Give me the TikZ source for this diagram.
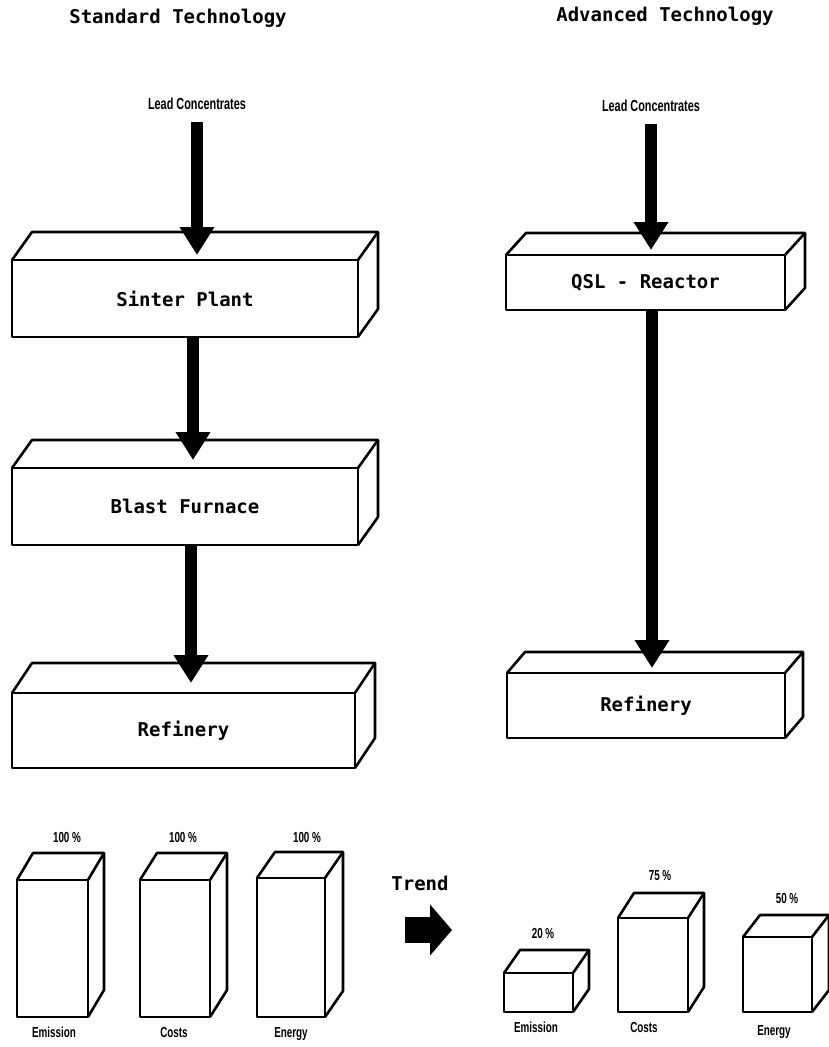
\documentclass[tikz,border=0pt]{standalone}
\usepackage{fontspec}
\usetikzlibrary{arrows.meta,calc}
\newfontfamily\monob{DejaVu Sans Mono}
\newfontfamily\narrowsans[FakeStretch=0.68]{Liberation Sans}
\newcommand\monolab{\monob\bfseries\fontsize{19}{22}\selectfont}
\newcommand\leadlab{\narrowsans\bfseries\fontsize{16}{18}\selectfont}
\newcommand\smalllab{\narrowsans\bfseries\fontsize{14.5}{16}\selectfont}
\newcommand\cubefaces[3]{%
  \draw[boxline] (#1.north west) -- ++(#2,-#3) -- ($(#1.north east)+(#2,-#3)$) -- ($(#1.south east)+(#2,-#3)$) -- (#1.south east);
  \draw[boxline] ($(#1.north east)+(#2,-#3)$) -- (#1.north east);}
\begin{document}
\begin{tikzpicture}[x=1pt,y=-1pt,
  boxline/.style={line width=2.6pt, line join=round},
  block/.style={boxline, draw, fill=white, rectangle, inner sep=0pt, outer sep=0pt, font=\monolab},
  bar/.style={boxline, draw, fill=white, rectangle, inner sep=0pt, outer sep=0pt},
  flow/.style={line width=12pt, -{Triangle[width=33pt,length=28pt]}},
  trendarrow/.style={line width=26pt, -{Triangle[width=50pt,length=22pt]}},
  title/.style={font=\monolab, anchor=base, inner sep=0pt},
  leadtxt/.style={font=\leadlab, anchor=base, inner sep=0pt},
  small/.style={font=\smalllab, anchor=base, inner sep=0pt}]
\useasboundingbox[fill=white] (0,0) rectangle (828,1047);

% titles
\node[title] (t1) at (178,23) {Standard Technology};
\node[title] (t2) at (665,21) {Advanced Technology};
\node[leadtxt] (lead1) at (197,109) {Lead Concentrates};
\node[leadtxt] (lead2) at (651,111) {Lead Concentrates};

% standard process blocks
\node[block, minimum width=346pt, minimum height=77pt] (sinter) at (185,298.5) {Sinter Plant};
\cubefaces{sinter}{20}{28}
\node[block, minimum width=346pt, minimum height=77pt] (blast) at (185,506.5) {Blast Furnace};
\cubefaces{blast}{20}{28}
\node[block, minimum width=343pt, minimum height=75pt] (ref1) at (183.5,730.5) {Refinery};
\cubefaces{ref1}{20}{30}

% advanced process blocks
\node[block, minimum width=279pt, minimum height=55pt] (qsl) at (645.5,282.5) {QSL - Reactor};
\cubefaces{qsl}{20}{22}
\node[block, minimum width=278pt, minimum height=65pt] (ref2) at (646,705.5) {Refinery};
\cubefaces{ref2}{18}{21}

% flow arrows
\draw[flow, shorten <=13pt, shorten >=5pt] (lead1.south) -- (lead1.south |- sinter.north);
\draw[flow, shorten >=8pt] ([xshift=8pt]sinter.south) -- ([xshift=8pt]sinter.south |- blast.north);
\draw[flow, shorten >=10pt] ([xshift=6pt]blast.south) -- ([xshift=6pt]blast.south |- ref1.north);
\draw[flow, shorten <=13pt, shorten >=5pt] (lead2.south) -- (lead2.south |- qsl.north);
\draw[flow, shorten >=5pt] ([xshift=6.5pt]qsl.south) -- ([xshift=6.5pt]qsl.south |- ref2.north);

% standard bars
\node[bar, minimum width=71pt, minimum height=137pt] (e1) at (52.5,948.5) {};
\cubefaces{e1}{16}{27}
\node[bar, minimum width=70pt, minimum height=137pt] (c1) at (175,948.5) {};
\cubefaces{c1}{17}{27}
\node[bar, minimum width=68pt, minimum height=139pt] (n1) at (291,947.5) {};
\cubefaces{n1}{18}{26}
\node[small] (pe1) at (67,842) {100 \%};
\node[small] (pc1) at (183,842) {100 \%};
\node[small] (pn1) at (307,842) {100 \%};
\node[small] (le1) at (54,1037) {Emission};
\node[small] (lc1) at (174,1037) {Costs};
\node[small] (ln1) at (291,1037) {Energy};

% trend
\node[title] (trend) at (420,890) {Trend};
\coordinate (ta) at (405,930);
\coordinate (tb) at (452,930);
\draw[trendarrow] (ta) -- (tb);

% advanced bars
\node[bar, minimum width=69pt, minimum height=39pt] (e2) at (538.5,992.5) {};
\cubefaces{e2}{16}{23}
\node[bar, minimum width=70pt, minimum height=94pt] (c2) at (653,965) {};
\cubefaces{c2}{16}{25}
\node[bar, minimum width=69pt, minimum height=75pt] (n2) at (777.5,974.5) {};
\cubefaces{n2}{17}{22}
\node[small] (pe2) at (543,938) {20 \%};
\node[small] (pc2) at (660,880) {75 \%};
\node[small] (pn2) at (787,903) {50 \%};
\node[small] (le2) at (536,1032) {Emission};
\node[small] (lc2) at (644,1032) {Costs};
\node[small] (ln2) at (774,1035) {Energy};
\end{tikzpicture}
\end{document}
